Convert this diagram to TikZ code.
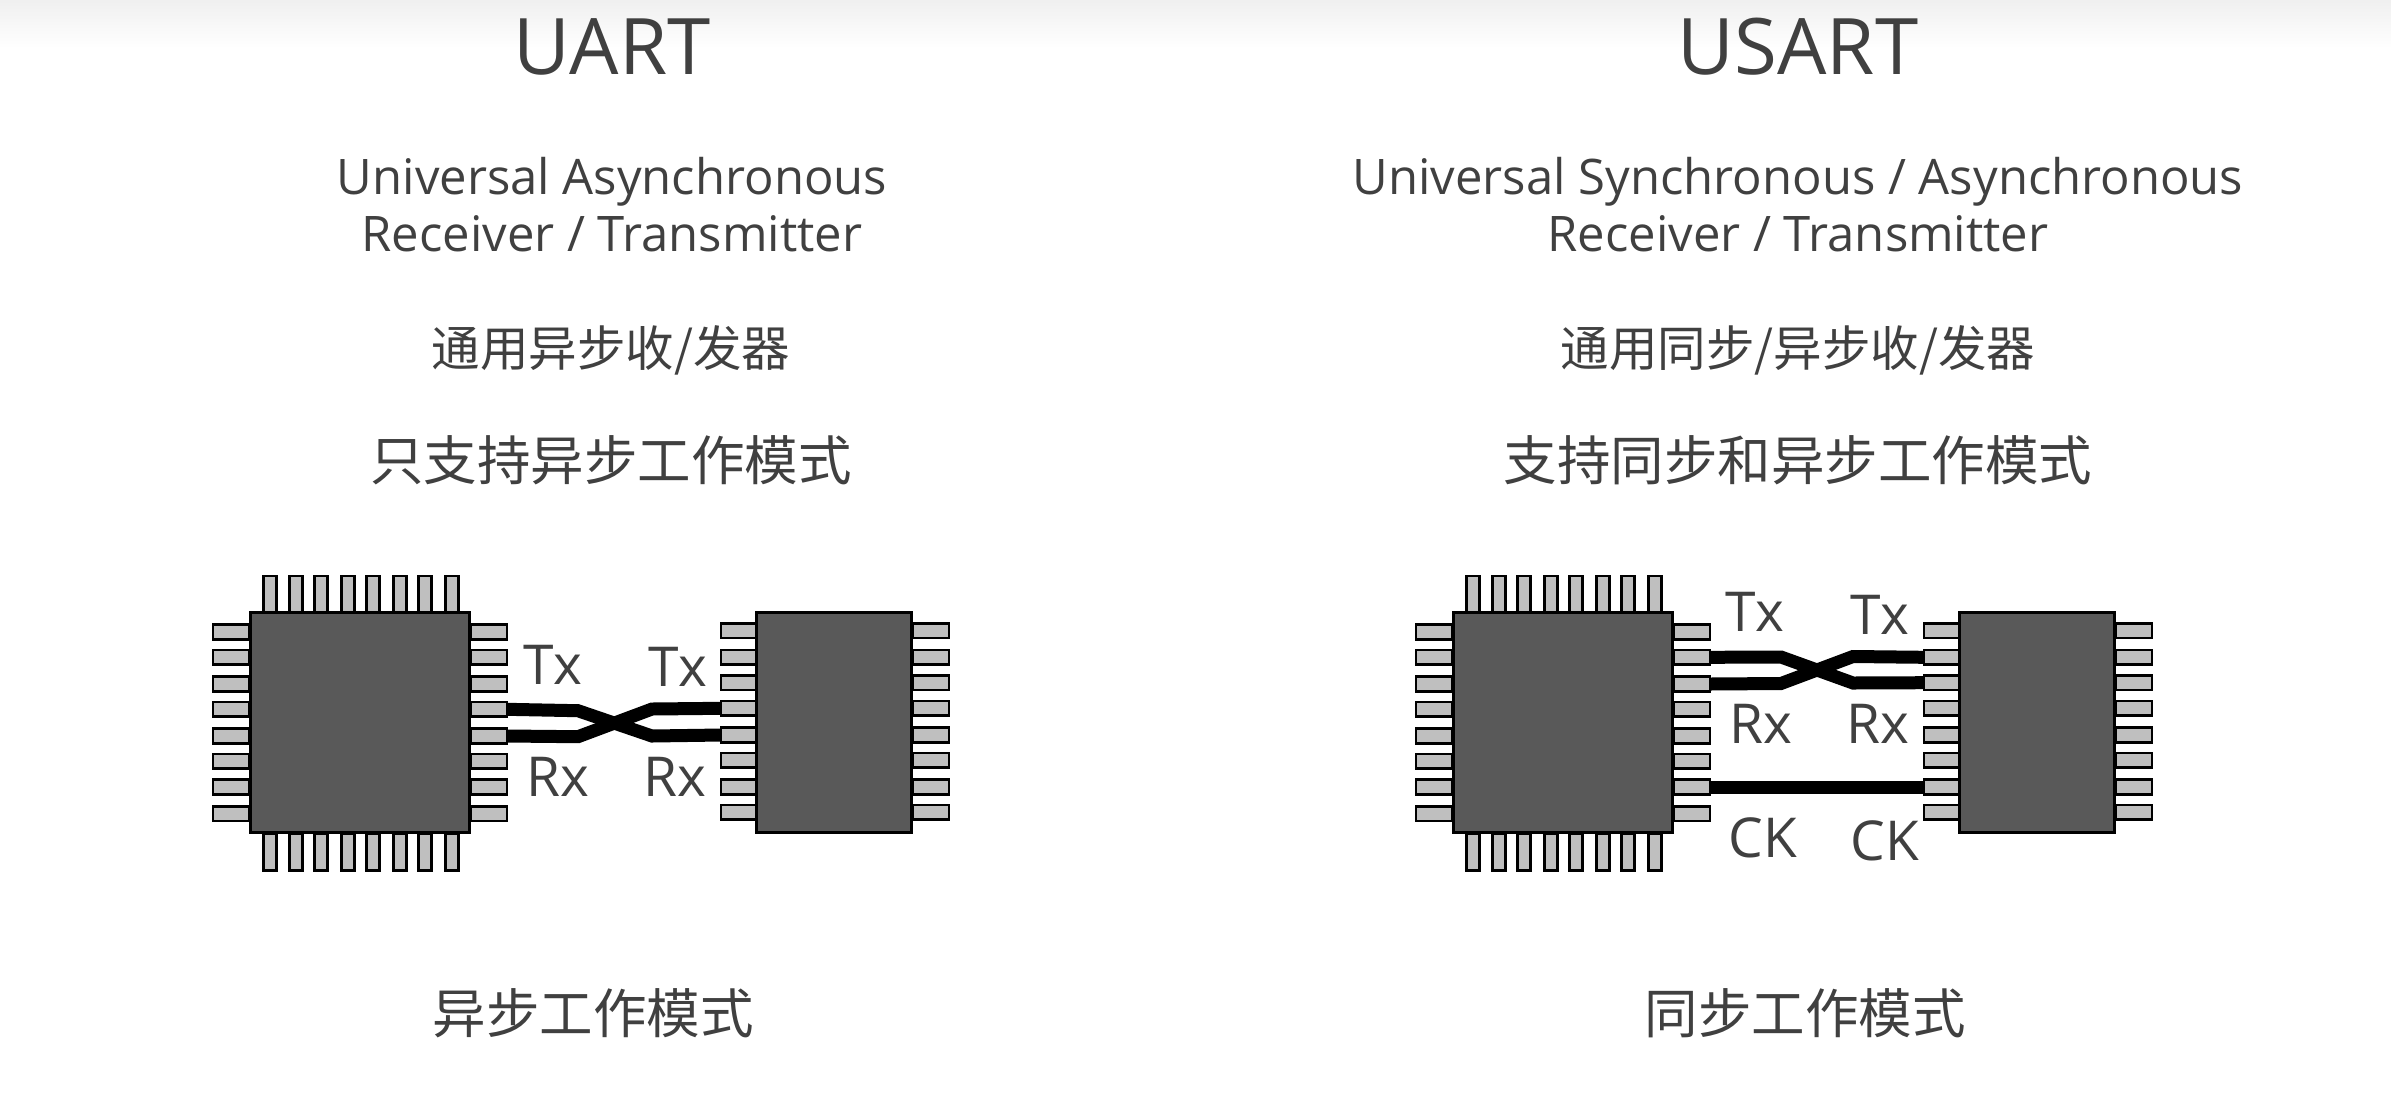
\documentclass[tikz,border=0pt]{standalone}
\usepackage{fontspec}
\setmainfont{Open Sans}
\newfontfamily\cjk{Noto Sans CJK SC}
\definecolor{ink}{HTML}{404040}
\definecolor{chipbody}{HTML}{595959}
\definecolor{pinfill}{HTML}{BFBFBF}
\tikzset{
  x=1pt,y=-1pt,
  chipbox/.style={draw=black,fill=chipbody,line width=3pt,inner sep=0pt,outer sep=0pt,minimum width=#1,minimum height=220pt},
  hpin/.style={draw=black,fill=pinfill,line width=2.6pt,inner sep=0pt,outer sep=0pt,minimum width=36pt,minimum height=14.5pt},
  vpin/.style={draw=black,fill=pinfill,line width=2.6pt,inner sep=0pt,outer sep=0pt,minimum width=13.5pt,minimum height=37pt},
  wire/.style={draw=black,line width=13pt,line join=miter},
  title/.style={text=ink,font=\fontsize{78}{78}\selectfont,anchor=base,inner sep=0pt},
  sub/.style={text=ink,font=\fontsize{49}{49}\selectfont,anchor=base,inner sep=0pt},
  cn/.style={text=ink,font=\cjk\fontsize{#1}{#1}\selectfont,anchor=base,inner sep=0pt},
  sig/.style={text=ink,font=\fontsize{55}{55}\selectfont,anchor=base,inner sep=0pt},
}
\newcommand{\chips}[2]{%
  % #1 = name prefix, #2 = x offset
  \foreach \i/\yy in {1/632,2/657.3,3/684,4/709.3,5/736,6/761.3,7/787,8/813.7}{
    \node[hpin] (#1LW\i) at ({#2+231},\yy) {};
    \node[hpin] (#1LE\i) at ({#2+489},\yy) {};
  }
  \foreach \i/\xx in {1/270,2/296,3/321,4/348,5/373,6/400,7/425,8/452}{
    \node[vpin] (#1LN\i) at ({#2+\xx},594.5) {};
    \node[vpin] (#1LS\i) at ({#2+\xx},852) {};
  }
  \foreach \i/\yy in {1/630.7,2/657.3,3/682.7,4/708.3,5/735,6/760.3,7/787,8/812.3}{
    \node[hpin] (#1RW\i) at ({#2+739},\yy) {};
    \node[hpin] (#1RE\i) at ({#2+931},\yy) {};
  }
  \node[chipbox=219pt] (#1L) at ({#2+360},722.5) {};
  \node[chipbox=155pt] (#1R) at ({#2+833.5},722.5) {};
}
\begin{document}
\begin{tikzpicture}
\useasboundingbox (0,0) rectangle (2391,1104);
\fill[white] (0,0) rectangle (2391,1104);
\shade[top color=black!6,bottom color=white] (0,0) rectangle (2391,48);

\node[title] (t1) at (612,74) {UART};
\node[title] (t2) at (1798,74) {USART};
\node[sub] (s1a) at (612,194) {Universal Asynchronous};
\node[sub] (s1b) at (612,251) {Receiver / Transmitter};
\node[sub] (s2a) at (1798,194) {Universal Synchronous / Asynchronous};
\node[sub] (s2b) at (1798,251) {Receiver / Transmitter};
\node[cn=48.5] (c1) at (611,366) {通用异步收/发器};
\node[cn=48.5] (c2) at (1798,366) {通用同步/异步收/发器};
\node[cn=53.5] (d1) at (611,480) {只支持异步工作模式};
\node[cn=53.5] (d2) at (1798,480) {支持同步和异步工作模式};
\node[cn=53.5] (e1) at (593,1033) {异步工作模式};
\node[cn=53.5] (e2) at (1805,1033) {同步工作模式};

\chips{a}{0}
\chips{b}{1203}

% UART wires
\coordinate (a1) at (578,710.7);
\coordinate (a2) at (652,736);
\coordinate (a3) at (578,736.7);
\coordinate (a4) at (652,709);
\draw[wire] (aLE4.east) -- (a1) -- (a2) -- (aRW5.west);
\draw[wire] (aLE5.east) -- (a3) -- (a4) -- (aRW4.west);
% USART wires
\coordinate (b1) at (1781,657);
\coordinate (b2) at (1853,683);
\coordinate (b3) at (1781,683.5);
\coordinate (b4) at (1853,656.5);
\draw[wire] (bLE2.east) -- (b1) -- (b2) -- (bRW3.west);
\draw[wire] (bLE3.east) -- (b3) -- (b4) -- (bRW2.west);
\draw[wire] (bLE7.east) -- (bRW7.west);

\node[sig] (u1) at (553,684) {Tx};
\node[sig] (u2) at (678,686) {Tx};
\node[sig] (u3) at (558,796) {Rx};
\node[sig] (u4) at (675,796) {Rx};
\node[sig] (v1) at (1755,631) {Tx};
\node[sig] (v2) at (1880,634) {Tx};
\node[sig] (v3) at (1761,743) {Rx};
\node[sig] (v4) at (1878,743) {Rx};
\node[sig] (v5) at (1763,857) {CK};
\node[sig] (v6) at (1885,860) {CK};
\end{tikzpicture}
\end{document}
